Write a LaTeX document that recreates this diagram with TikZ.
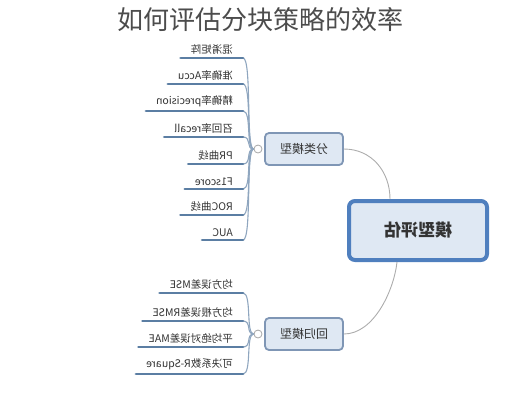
\documentclass[tikz,border=0pt]{standalone}
\usepackage{fontspec}
\usepackage{graphicx}
\newfontfamily\cjk{Noto Sans CJK SC}
\definecolor{leafline}{HTML}{5B7EA3}
\definecolor{trunk}{HTML}{8FA6BF}
\definecolor{boxfill}{HTML}{DFE8F3}
\definecolor{boxdraw}{HTML}{7F96B5}
\definecolor{maindraw}{HTML}{4F7FBE}
\definecolor{txt}{HTML}{333333}
\tikzset{
  leaf/.style={anchor=south east, inner xsep=10pt, inner ysep=3.5pt, font=\cjk\fontsize{10.5}{12}\selectfont, text=txt},
  uline/.style={draw=leafline, line width=2.8pt, line cap=round},
  twig/.style={draw=trunk, line width=1.1pt},
  midbox/.style={draw=boxdraw, fill=boxfill, line width=1.8pt, rounded corners=4pt, minimum width=78pt, minimum height=32pt, font=\cjk\fontsize{12}{14}\selectfont, text=txt},
  mainbox/.style={draw=maindraw, fill=boxfill, line width=4pt, rounded corners=6pt, minimum width=138pt, minimum height=59pt, font=\cjk\bfseries\fontsize{17}{20}\selectfont, text=txt},
  knob/.style={circle, draw=gray!70, fill=white, line width=0.8pt, minimum size=8pt, inner sep=0pt},
  link/.style={draw=gray!65, line width=0.9pt}
}
\begin{document}
\begin{tikzpicture}[x=1pt,y=-1pt]
\useasboundingbox (0,0) rectangle (519,400);
\node[font=\cjk\fontsize{26}{28}\selectfont, text=black!70] (title) at (260,20) {如何评估分块策略的效率};

\node[mainbox] (center) at (418,230.5) {\reflectbox{模型评估}};
\node[midbox] (cls) at (304,149) {\reflectbox{分类模型}};
\node[midbox] (reg) at (304,334) {\reflectbox{回归模型}};
\node[knob] (kc) at (258,149) {};
\node[knob] (kr) at (258,334) {};

\draw[link] (cls.east) .. controls (372,149) and (390,172) .. ([xshift=-28pt]center.north);
\draw[link] (reg.east) .. controls (374,334) and (394,290) .. ([xshift=-21pt]center.south);

\foreach \n/\y/\t in {l1/58/混淆矩阵, l2/84/准确率Accu, l3/111/精确率precision, l4/137/召回率recall, l5/164/PR曲线, l6/189/F1score, l7/215/ROC曲线, l8/240/AUC}{
  \node[leaf] (\n) at (243,\y) {\reflectbox{\t}};
  \draw[twig] (kc.west) .. controls +(-8,0) and +(9,0) .. (\n.south east);
  \draw[uline] (\n.south west) -- (\n.south east);
}
\foreach \n/\y/\t in {r1/293/均方误差MSE, r2/321/均方根误差RMSE, r3/347/平均绝对误差MAE, r4/374/可决系数R-Square}{
  \node[leaf] (\n) at (243,\y) {\reflectbox{\t}};
  \draw[twig] (kr.west) .. controls +(-8,0) and +(9,0) .. (\n.south east);
  \draw[uline] (\n.south west) -- (\n.south east);
}
\end{tikzpicture}
\end{document}
